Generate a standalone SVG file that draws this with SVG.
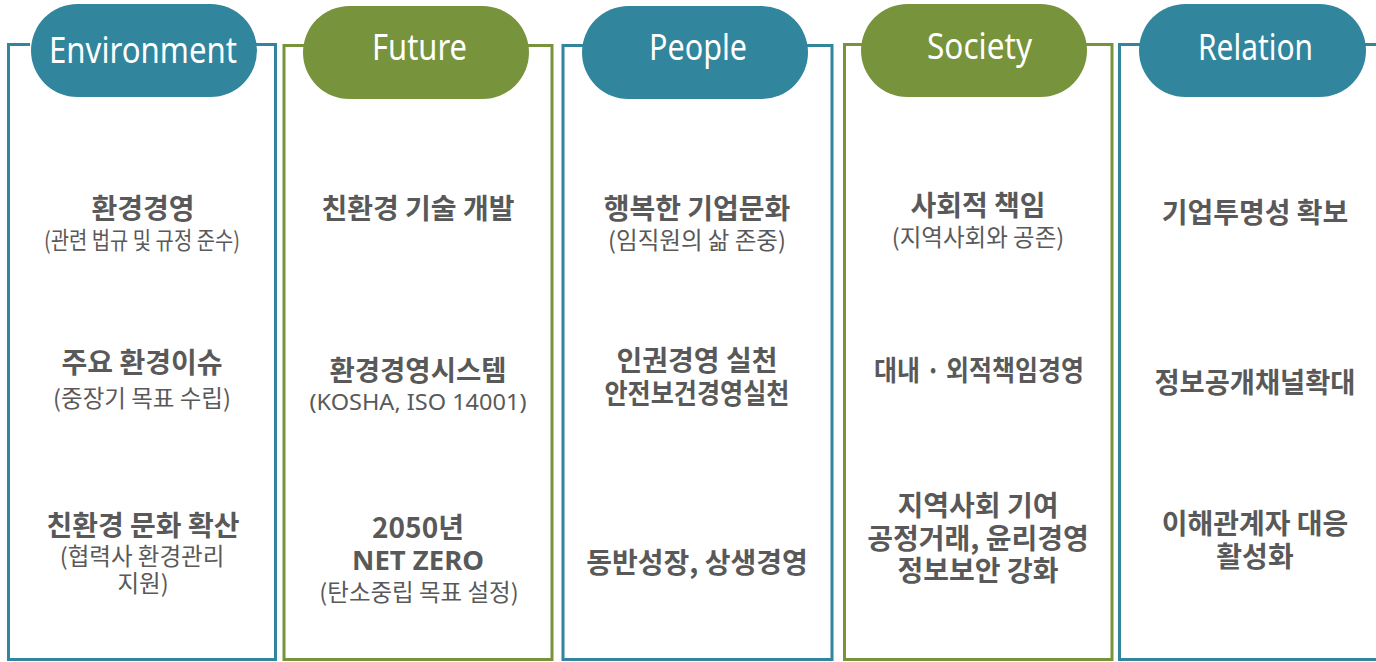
<svg xmlns="http://www.w3.org/2000/svg" width="1376" height="662" viewBox="0 0 1376 662">
<style>
.bg{fill:#ffffff}
.box{fill:none;stroke-width:3}
.teal .box{stroke:#31859C}
.green .box{stroke:#77933C}
.teal .pill{fill:#31859C}
.green .pill{fill:#77933C}
.hd{font-family:"Noto Sans","Open Sans",sans-serif;font-size:36px;fill:#ffffff;text-anchor:middle}
.b{font-family:"Noto Sans CJK KR","Noto Sans",sans-serif;font-size:28px;font-weight:700;fill:#595959;text-anchor:middle}
.s{font-family:"Noto Sans CJK KR","Noto Sans",sans-serif;font-size:23.5px;fill:#595959;text-anchor:middle}
.sb{font-family:"Noto Sans","Noto Sans CJK KR",sans-serif;font-size:27.5px;font-weight:700;fill:#595959;text-anchor:middle}
.sl{font-family:"Noto Sans","Noto Sans CJK KR",sans-serif;font-size:22px;fill:#595959;text-anchor:middle}
</style>
<rect class="bg" x="0" y="0" width="1376" height="662"/>
<g id="environment" class="teal">
  <path class="box" d="M30,44.5 H8.5 V659.5 H275.5 V44.5 H250"/>
  <rect class="pill" x="31" y="4" width="226" height="93" rx="46.5"/>
  <text class="hd" x="143" y="63" textLength="188" lengthAdjust="spacingAndGlyphs">Environment</text>
  <text class="b" x="143" y="219">환경경영</text>
  <text class="s" x="142" y="249" textLength="196" lengthAdjust="spacingAndGlyphs">(관련 법규 및 규정 준수)</text>
  <text class="b" x="142" y="373">주요 환경이슈</text>
  <text class="s" x="142" y="407">(중장기 목표 수립)</text>
  <text class="b" x="143" y="536">친환경 문화 확산</text>
  <text class="s" x="142" y="565">(협력사 환경관리</text>
  <text class="s" x="143" y="592">지원)</text>
</g>
<g id="future" class="green">
  <path class="box" d="M310,45.5 H284 V659.5 H552 V45.5 H520"/>
  <rect class="pill" x="303" y="6" width="226" height="93" rx="46.5"/>
  <text class="hd" x="419.5" y="60" textLength="95" lengthAdjust="spacingAndGlyphs">Future</text>
  <text class="b" x="418" y="219">친환경 기술 개발</text>
  <text class="b" x="418" y="381" textLength="177" lengthAdjust="spacingAndGlyphs">환경경영시스템</text>
  <text class="sl" x="418" y="410" textLength="217" lengthAdjust="spacingAndGlyphs">(KOSHA, ISO 14001)</text>
  <text class="b" x="418" y="538">2050년</text>
  <text class="sb" x="418" y="570">NET ZERO</text>
  <text class="s" x="419" y="601">(탄소중립 목표 설정)</text>
</g>
<g id="people" class="teal">
  <path class="box" d="M590,45.5 H563 V659.5 H832 V45.5 H800"/>
  <rect class="pill" x="582" y="6" width="226" height="93" rx="46.5"/>
  <text class="hd" x="698" y="60" textLength="98" lengthAdjust="spacingAndGlyphs">People</text>
  <text class="b" x="697" y="219">행복한 기업문화</text>
  <text class="s" x="697" y="249">(임직원의 삶 존중)</text>
  <text class="b" x="697" y="371">인권경영 실천</text>
  <text class="b" x="697" y="404" textLength="185" lengthAdjust="spacingAndGlyphs">안전보건경영실천</text>
  <text class="b" x="697" y="573">동반성장, 상생경영</text>
</g>
<g id="society" class="green">
  <path class="box" d="M870,44.5 H844.5 V659.5 H1112 V44.5 H1080"/>
  <rect class="pill" x="861" y="4" width="226" height="93" rx="46.5"/>
  <text class="hd" x="979.5" y="59" textLength="105" lengthAdjust="spacingAndGlyphs">Society</text>
  <text class="b" x="978" y="216">사회적 책임</text>
  <text class="s" x="978" y="246">(지역사회와 공존)</text>
  <text class="b" x="979" y="381" textLength="210" lengthAdjust="spacingAndGlyphs">대내 · 외적책임경영</text>
  <text class="b" x="978" y="516">지역사회 기여</text>
  <text class="b" x="978" y="549">공정거래, 윤리경영</text>
  <text class="b" x="978" y="581">정보보안 강화</text>
</g>
<g id="relation" class="teal">
  <path class="box" d="M1150,44.5 H1119.5 V659.5 H1380 M1380,44.5 H1350"/>
  <rect class="pill" x="1139" y="4" width="227" height="93" rx="46.5"/>
  <text class="hd" x="1255.5" y="60" textLength="115" lengthAdjust="spacingAndGlyphs">Relation</text>
  <text class="b" x="1255" y="223">기업투명성 확보</text>
  <text class="b" x="1255" y="393" textLength="201" lengthAdjust="spacingAndGlyphs">정보공개채널확대</text>
  <text class="b" x="1255" y="534">이해관계자 대응</text>
  <text class="b" x="1255" y="567">활성화</text>
</g>
<g id="connectors"></g>
</svg>
